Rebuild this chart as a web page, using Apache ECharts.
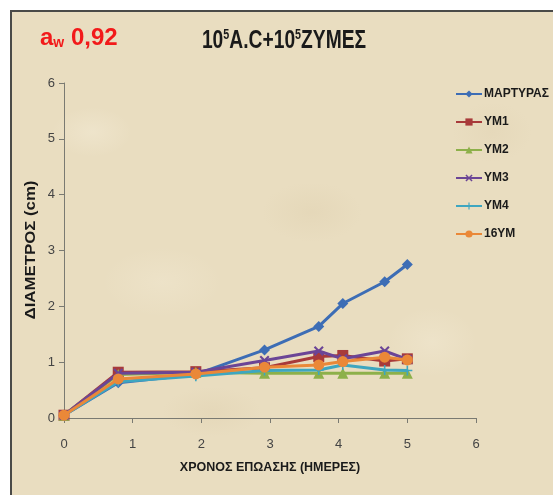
<!DOCTYPE html>
<html>
<head>
<meta charset="utf-8">
<script src="https://cdn.jsdelivr.net/npm/echarts@6/dist/echarts.min.js"></script>
<style>
  html, body { margin: 0; padding: 0; background: #ffffff; }
  #frame {
    position: absolute; left: 10px; top: 10px; width: 543px; height: 485px;
    border-left: 2px solid #4a4a48; border-top: 2px solid #4a4a48;
    box-sizing: border-box;
    background-color: #e9ddc0;
    background-image:
      radial-gradient(ellipse 40px 25px at 80px 120px, rgba(250,244,228,0.3), transparent),
      radial-gradient(ellipse 50px 30px at 300px 200px, rgba(205,185,145,0.15), transparent),
      radial-gradient(ellipse 45px 35px at 420px 330px, rgba(250,244,228,0.25), transparent),
      radial-gradient(ellipse 50px 25px at 200px 400px, rgba(205,185,145,0.15), transparent),
      radial-gradient(ellipse 40px 30px at 480px 120px, rgba(205,185,145,0.12), transparent),
      radial-gradient(ellipse 60px 35px at 150px 270px, rgba(250,244,228,0.22), transparent);
  }
  #chart { position: absolute; left: 0; top: 0; width: 553px; height: 495px; }
</style>
</head>
<body>
<div id="frame"></div>
<div id="chart"></div>
<script>
// Incubation time (days) and colony diameter (cm) per treatment
const days = [0, 0.79, 1.92, 2.92, 3.71, 4.06, 4.67, 5.0];
const seriesNames = ['ΜΑΡΤΥΡΑΣ', 'ΥΜ1', 'ΥΜ2', 'ΥΜ3', 'ΥΜ4', '16ΥΜ'];
const martyras = [0.05, 0.63, 0.78, 1.22, 1.64, 2.05, 2.44, 2.75];
const ym1      = [0.05, 0.82, 0.83, 0.90, 1.10, 1.12, 1.02, 1.06];
const ym2      = [0.05, 0.78, 0.82, 0.80, 0.80, 0.80, 0.80, 0.80];
const ym3      = [0.05, 0.80, 0.82, 1.03, 1.20, 1.06, 1.20, 1.05];
const ym4      = [0.05, 0.65, 0.75, 0.85, 0.86, 0.95, 0.86, 0.85];
const ym16     = [0.05, 0.70, 0.79, 0.91, 0.95, 1.01, 1.09, 1.04];
const xTicks = [0, 1, 2, 3, 4, 5, 6];
const yTicks = [0, 1, 2, 3, 4, 5, 6];

const values = [martyras, ym1, ym2, ym3, ym4, ym16];
const colors = ['#3d6db5', '#a83a3a', '#8db04a', '#6b4596', '#3ea6c0', '#ea8838'];
const xMark = 'path://M0,1.5 L1.5,0 L5,3.5 L8.5,0 L10,1.5 L6.5,5 L10,8.5 L8.5,10 L5,6.5 L1.5,10 L0,8.5 L3.5,5 Z';
const starMark = 'path://M4.2,0 L5.8,0 L5.8,4.2 L10,4.2 L10,5.8 L5.8,5.8 L5.8,10 L4.2,10 L4.2,5.8 L0,5.8 L0,4.2 L4.2,4.2 Z';
const symbols = ['diamond', 'rect', 'triangle', xMark, starMark, 'circle'];
const symbolSizes = [11, 11, 11, 10, 10, 11];

const sans = "'Liberation Sans', Arial, sans-serif";

const chart = echarts.init(document.getElementById('chart'), null, { renderer: 'canvas' });

chart.setOption({
  backgroundColor: 'transparent',
  animation: false,
  graphic: [
    {
      // chart title, horizontally narrowed
      type: 'text', x: 284, y: 41, scaleX: 0.77,
      style: {
        text: '{b|10}{s|5}{b|A.C+10}{s|5}{b|ΖΥΜΕΣ}',
        align: 'center', verticalAlign: 'middle',
        rich: {
          b: { fontFamily: sans, fontWeight: 'bold', fontSize: 25, fill: '#1a1a1a', verticalAlign: 'bottom' },
          s: { fontFamily: sans, fontWeight: 'bold', fontSize: 14, fill: '#1a1a1a', verticalAlign: 'top', padding: [0, 0, 11, 0] }
        }
      }
    },
    {
      // vertical axis title
      type: 'text', x: 31, y: 250, rotation: Math.PI / 2, scaleX: 1.2,
      style: {
        text: 'ΔΙΑΜΕΤΡΟΣ (cm)', align: 'center', verticalAlign: 'middle',
        fontFamily: sans, fontWeight: 'bold', fontSize: 14, fill: '#1a1a1a'
      }
    }
  ],
  title: [
    {
      text: '{a|a}{w|w}{n| 0,92}',
      left: 35, top: 21,
      textStyle: {
        rich: {
          a: { fontFamily: sans, fontWeight: 'bold', fontSize: 24, color: '#f21a1a' },
          w: { fontFamily: sans, fontWeight: 'bold', fontSize: 14, color: '#f21a1a', padding: [10, 0, 0, 0] },
          n: { fontFamily: sans, fontWeight: 'bold', fontSize: 24, color: '#f21a1a' }
        }
      }
    }
  ],
  legend: {
    orient: 'vertical',
    left: 450, top: 83,
    itemWidth: 26, itemHeight: 9, itemGap: 16,
    data: seriesNames,
    textStyle: { fontFamily: sans, fontWeight: 'bold', fontSize: 12, color: '#1a1a1a', padding: [0, 0, 0, -3] }
  },
  grid: { left: 64, right: 77, top: 83, bottom: 77, containLabel: false },
  xAxis: {
    type: 'value', min: xTicks[0], max: xTicks[xTicks.length - 1], interval: 1,
    name: 'ΧΡΟΝΟΣ ΕΠΩΑΣΗΣ (ΗΜΕΡΕΣ)', nameLocation: 'middle', nameGap: 43,
    nameTextStyle: { fontFamily: sans, fontWeight: 'bold', fontSize: 12.5, color: '#1a1a1a' },
    axisLine: { lineStyle: { color: '#7a7a72', width: 1 } },
    axisTick: { show: true, length: 5, lineStyle: { color: '#7a7a72' } },
    axisLabel: { fontFamily: sans, fontSize: 13, color: '#444', margin: 20 },
    splitLine: { show: false }
  },
  yAxis: {
    type: 'value', min: yTicks[0], max: yTicks[yTicks.length - 1], interval: 1,
    axisLine: { show: true, lineStyle: { color: '#7a7a72', width: 1 } },
    axisTick: { show: true, length: 5, lineStyle: { color: '#7a7a72' } },
    axisLabel: { fontFamily: sans, fontSize: 13, color: '#444', margin: 9 },
    splitLine: { show: false }
  },
  series: seriesNames.map((name, i) => ({
    name: name,
    type: 'line',
    data: days.map((d, j) => [d, values[i][j]]),
    color: colors[i],
    symbol: symbols[i],
    symbolSize: symbolSizes[i],
    showSymbol: true,
    lineStyle: { width: 3, color: colors[i] },
    itemStyle: { color: colors[i] },
    z: 2 + i
  }))
});
</script>
</body>
</html>
